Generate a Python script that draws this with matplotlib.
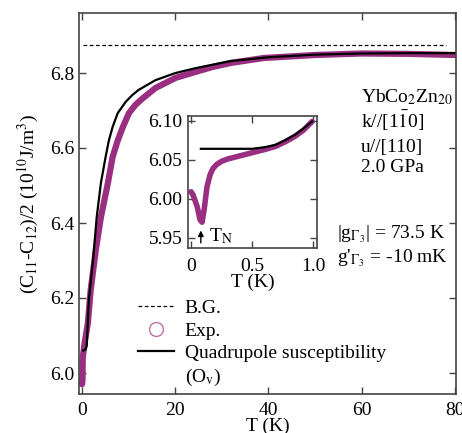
import matplotlib
matplotlib.use("Agg")
import matplotlib.pyplot as plt
import numpy as np
from matplotlib.lines import Line2D

plt.rcParams['font.family'] = ['Liberation Serif', 'DejaVu Serif']
plt.rcParams['mathtext.fontset'] = 'stix'

# Main data
T_exp = [0.05, 0.15, 0.2, 0.6, 1.3, 1.9, 3.0, 4.1, 5.6, 6.6, 7.7, 8.8, 10.1, 11.5, 13.1, 15.8, 20.1, 24.4, 28.0, 32.0, 39.0, 50.0, 60.0, 70.0, 80.0]
C_exp = [5.97, 5.98, 6.04, 6.08, 6.133, 6.221, 6.328, 6.416, 6.507, 6.576, 6.62, 6.656, 6.693, 6.715, 6.733, 6.76, 6.787, 6.803, 6.816, 6.827, 6.84, 6.848, 6.852, 6.851, 6.848]
T_fit = [0.3, 0.8, 1.05, 1.5, 2.4, 3.2, 4.1, 5.1, 5.8, 6.6, 7.7, 9.4, 10.8, 12.2, 15.8, 20.1, 24.4, 32.0, 40.0, 50.0, 60.0, 70.0, 80.0]
C_fit = [6.06, 6.063, 6.072, 6.195, 6.30, 6.416, 6.507, 6.576, 6.62, 6.656, 6.693, 6.723, 6.741, 6.755, 6.781, 6.80, 6.813, 6.832, 6.842, 6.849, 6.852, 6.853, 6.853]
T_bg = [0.2, 78.0]
C_bg = [6.875, 6.875]

# Inset data
Ti_exp = [0.0, 0.016, 0.05, 0.074, 0.09, 0.107, 0.13, 0.156, 0.18, 0.21, 0.25, 0.30, 0.4, 0.5, 0.6, 0.69, 0.77, 0.85, 0.92, 0.99]
Ci_exp = [6.009, 6.005, 5.99, 5.973, 5.970, 5.986, 6.015, 6.031, 6.039, 6.044, 6.048, 6.051, 6.055, 6.059, 6.063, 6.067, 6.073, 6.080, 6.088, 6.099]
Ti_fit = [0.08, 0.3, 0.5, 0.6, 0.69, 0.77, 0.85, 0.92, 0.99]
Ci_fit = [6.064, 6.064, 6.064, 6.066, 6.069, 6.075, 6.082, 6.090, 6.099]

purple = '#9a2f82'
spine = '#444444'

fig = plt.figure(figsize=(4.62, 4.33), dpi=100)
ax = fig.add_axes([79/462, 1-394/433, (456-79)/462, (394-13)/433])
ax.plot(T_bg, C_bg, ls=(0, (3, 2)), color='black', lw=0.9)
ax.plot(T_exp, C_exp, color=purple, lw=4.5, solid_capstyle='round', solid_joinstyle='round')
ax.plot(T_fit, C_fit, color='black', lw=1.6, solid_joinstyle='round')
ax.set_xlim(-0.6, 80.2)
ax.set_ylim(5.944, 6.96)
ax.set_xticks([0, 20, 40, 60, 80])
ax.set_yticks([6.0, 6.2, 6.4, 6.6, 6.8])
ax.set_yticklabels(['6.0', '6.2', '6.4', '6.6', '6.8'])
ax.tick_params(direction='in', top=True, right=True, labelsize=14, length=5, color=spine, width=1)
ax.tick_params(axis='x', pad=6)
for s in ax.spines.values():
    s.set_color(spine)
    s.set_linewidth(1.2)
ax.set_xlabel('T (K)', fontsize=14, labelpad=-1)
ax.set_ylabel('(C$_{11}$-C$_{12}$)/2 (10$^{10}$J/m$^3$)', fontsize=14, labelpad=6)

tx = 0.748
ax.text(tx, 0.766, 'YbCo$_2$Zn$_{20}$', transform=ax.transAxes, fontsize=14, va='baseline')
ax.text(tx, 0.698, 'k//[1$\\bar{1}$0]', transform=ax.transAxes, fontsize=14, va='baseline')
ax.text(tx, 0.635, 'u//[110]', transform=ax.transAxes, fontsize=14, va='baseline')
ax.text(tx, 0.583, '2.0 GPa', transform=ax.transAxes, fontsize=14, va='baseline')
ax.text(0.684, 0.409, '|g$_{\\Gamma_3}$| = 73.5 K', transform=ax.transAxes, fontsize=14, va='baseline')
ax.text(0.684, 0.346, "g'$_{\\Gamma_3}$ = -10 mK", transform=ax.transAxes, fontsize=14, va='baseline')

handles = [Line2D([], [], ls=(0, (3, 2)), color='black', lw=0.9),
           Line2D([], [], ls='none', marker='o', mfc='none', mec='#c070a8', ms=10, mew=1),
           Line2D([], [], color='black', lw=1.6),
           Line2D([], [], ls='none')]
labels = ['B.G.', 'Exp.', 'Quadrupole susceptibility', '(O$_\\mathrm{v}$)']
leg = ax.legend(handles, labels, loc='lower left', bbox_to_anchor=(0.12, -0.02), frameon=False,
                fontsize=14, handlelength=1.85, handletextpad=0.55, labelspacing=0.25, borderpad=0.2)

# inset
axi = fig.add_axes([188/462, 1-248/433, (317-188)/462, (248-116)/433])
axi.plot(Ti_exp, Ci_exp, color=purple, lw=4.0, solid_capstyle='round', solid_joinstyle='round')
axi.plot(Ti_fit, Ci_fit, color='black', lw=1.6)
axi.set_xlim(-0.025, 1.03)
axi.set_ylim(5.937, 6.106)
axi.set_xticks([0, 0.5, 1.0])
axi.set_xticklabels(['0', '0.5', '1.0'])
axi.set_yticks([5.95, 6.0, 6.05, 6.10])
axi.set_yticklabels(['5.95', '6.00', '6.05', '6.10'])
axi.tick_params(direction='in', top=True, right=True, labelsize=14, length=5, color=spine, width=1, pad=4)
axi.tick_params(axis='x', pad=7)
for s in axi.spines.values():
    s.set_color(spine)
    s.set_linewidth(1.2)
axi.set_xlabel('T (K)', fontsize=14, labelpad=-1)
axi.annotate('', xy=(0.08, 5.963), xytext=(0.08, 5.940),
             arrowprops=dict(arrowstyle='-|>', color='black', lw=1, mutation_scale=8))
axi.text(0.15, 5.945, 'T$_\\mathrm{N}$', fontsize=14)

fig.savefig('out.png', dpi=100)
